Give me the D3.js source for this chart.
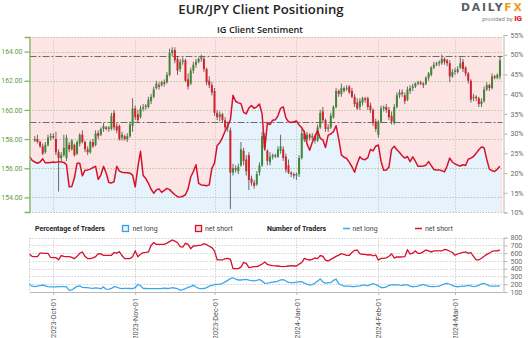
<!DOCTYPE html>
<html><head><meta charset="utf-8">
<script src="https://cdn.jsdelivr.net/npm/d3@7"></script>
<style>
html,body{margin:0;padding:0;background:#fff;}
svg{display:block;font-family:Roboto,"Noto Sans",sans-serif;}
</style></head><body>
<svg id="chart" width="528" height="338"></svg>
<script>
// EUR/JPY daily candles, one per day starting 2023-09-24
const candleStart = "2023-09-24";
const open = [157.9,158.0,157.8,157.5,157.1,157.6,158.1,158.2,158.0,157.1,156.7,156.9,156.7,157.6,157.3,157.6,157.0,157.7,158.3,157.8,157.3,157.1,157.8,157.6,158.4,158.3,158.7,158.8,158.7,158.7,159.8,158.9,158.9,158.1,158.2,158.0,158.2,158.9,160.1,159.7,159.5,160.1,160.2,160.2,160.6,160.9,161.5,161.7,161.7,161.9,161.9,162.4,163.9,164.1,163.5,162.8,163.3,163.4,162.1,161.8,162.7,163.1,163.3,163.5,163.5,162.8,162.0,161.7,161.3,159.8,159.5,159.7,159.3,158.8,158.6,155.7,156.0,155.8,156.2,157.2,156.6,156.9,155.3,155.0,154.9,155.7,156.2,158.2,157.2,156.4,156.8,156.8,156.8,157.2,157.3,156.8,156.2,155.7,155.6,155.5,155.6,156.7,158.4,158.0,158.3,158.1,158.2,157.9,158.8,159.9,159.3,158.7,158.8,159.5,160.2,161.3,161.1,161.3,161.5,161.6,161.3,160.9,160.5,160.2,160.5,160.8,160.8,160.3,160.0,159.2,158.3,159.2,160.1,160.2,160.0,159.6,159.1,160.2,161.0,161.2,161.0,160.7,161.3,161.5,161.6,161.8,161.9,161.8,161.8,162.2,162.4,162.9,163.1,163.2,163.2,163.5,163.4,163.2,162.3,162.6,162.6,162.9,163.3,162.9,162.5,162.0,160.8,160.9,160.8,160.4,160.6,161.4,161.7,161.5,162.3,162.2,162.3];
const high = [158.2,158.3,157.9,157.7,157.8,158.3,158.4,158.4,158.5,157.3,157.1,158.3,158.3,157.8,158.0,157.7,157.9,158.4,158.6,157.9,157.5,157.9,158.0,158.6,158.6,158.8,159.1,158.9,158.9,159.8,160.0,159.1,159.0,158.5,158.3,158.4,159.2,160.8,160.3,160.0,160.3,160.4,160.4,160.9,161.1,161.6,162.0,161.9,162.0,162.1,162.6,164.2,164.3,164.3,163.7,163.5,163.6,163.5,162.5,162.9,163.3,163.5,163.6,163.8,163.7,162.9,162.3,161.9,161.5,160.0,159.9,159.8,159.5,159.2,158.8,156.3,156.2,156.3,157.8,157.4,156.9,157.1,155.5,155.2,155.8,156.4,158.5,158.4,157.3,157.1,157.0,157.0,157.5,158.3,157.5,157.0,156.6,155.8,155.7,155.7,156.9,158.7,158.6,158.5,158.4,158.4,158.3,159.0,160.0,160.2,159.4,159.0,159.8,160.3,161.5,161.4,161.8,161.6,161.7,161.7,161.5,161.1,160.8,160.8,160.9,160.9,160.9,160.5,160.1,159.4,159.3,160.3,160.3,160.4,160.2,159.9,160.4,161.2,161.4,161.4,161.2,161.6,161.7,161.8,161.9,162.0,162.0,161.9,162.3,162.6,163.0,163.3,163.3,163.4,163.8,163.6,163.5,163.4,162.8,162.9,163.0,163.6,163.5,163.0,162.6,162.1,161.1,161.0,160.9,160.8,161.6,161.9,161.8,162.5,162.4,162.5,163.7];
const low = [157.8,157.7,157.4,156.9,157.0,157.5,157.9,158.0,156.9,154.4,156.5,156.8,156.5,157.1,157.2,156.8,156.9,157.5,157.7,157.1,156.9,157.0,157.4,157.5,158.0,158.2,158.5,158.6,158.5,158.6,158.6,158.4,157.9,157.9,157.9,157.8,158.1,158.5,159.3,159.1,159.4,159.9,160.0,160.1,160.4,160.8,161.4,161.4,161.6,161.6,161.8,162.3,163.7,163.2,162.4,162.6,163.1,161.9,161.4,161.7,162.5,162.9,163.2,163.3,162.6,161.7,161.5,161.0,159.6,159.3,159.2,159.1,158.6,158.5,153.2,155.5,155.7,155.6,156.1,156.2,155.5,154.5,154.8,154.6,154.8,155.5,156.1,157.2,156.2,156.2,156.6,156.7,156.7,157.0,156.5,155.7,155.6,155.4,155.3,155.2,155.4,156.6,157.8,157.8,157.9,157.9,157.7,157.8,158.7,159.1,158.5,158.5,158.7,159.4,160.1,160.9,160.9,161.2,161.3,161.1,160.8,160.2,160.0,160.0,160.3,160.5,160.0,159.8,158.9,158.5,158.1,159.1,159.9,159.8,159.3,159.0,159.0,160.1,160.8,160.9,160.4,160.6,161.1,161.3,161.5,161.7,161.7,161.5,161.7,162.0,162.3,162.8,163.0,163.0,163.1,163.1,163.0,161.9,162.2,162.4,162.5,162.8,162.6,162.3,161.8,160.5,160.6,160.6,160.2,160.2,160.5,161.3,161.3,161.4,162.1,162.1,162.1];
const close = [158.0,157.8,157.5,157.0,157.6,158.1,158.2,158.1,157.1,156.7,156.9,157.4,158.1,157.3,157.9,156.9,157.8,158.3,157.8,157.3,157.1,157.8,157.5,158.4,158.2,158.7,158.9,158.7,158.8,159.6,158.8,158.6,158.0,158.3,158.0,158.2,159.0,160.1,159.5,159.3,160.1,160.2,160.3,160.7,160.9,161.4,161.8,161.6,161.9,161.8,162.4,163.9,164.1,163.4,162.7,163.3,163.4,162.0,161.6,162.7,163.1,163.3,163.5,163.6,162.8,161.9,161.7,161.2,159.8,159.5,159.7,159.3,158.8,158.9,155.7,156.0,155.9,156.1,157.3,156.5,155.8,155.2,155.0,154.8,155.6,156.2,158.2,157.4,156.5,156.8,156.9,156.9,157.3,157.5,156.7,155.9,155.7,155.6,155.5,155.6,156.7,158.4,158.0,158.3,158.1,158.2,157.9,158.8,159.8,159.3,158.7,158.8,159.6,160.2,161.3,161.1,161.5,161.5,161.5,161.2,160.9,160.4,160.1,160.6,160.8,160.7,160.2,160.0,159.1,158.7,159.2,160.1,160.2,160.0,159.5,159.2,160.2,161.0,161.2,161.1,160.6,161.4,161.5,161.6,161.8,161.9,161.8,161.7,162.2,162.5,162.9,163.1,163.2,163.3,163.5,163.3,163.2,162.3,162.6,162.7,162.8,163.2,162.8,162.5,162.0,160.7,160.9,160.8,160.4,160.6,161.4,161.7,161.5,162.3,162.2,162.4,163.4];

// Client sentiment and trader counts, one value per day starting 2023-09-22
const sentimentStart = "2023-09-22";
const netLongPct = [24.2,23.2,22.8,22.5,22.8,23.6,22.6,22.6,22.7,22.8,22.7,22.9,22.8,22.7,22.1,16.5,16.6,18.8,22.5,22.5,19.3,20.7,20.8,21.0,21.4,21.7,18.4,19.5,21.7,20.0,17.6,17.5,17.8,21.7,20.5,20.2,20.1,20.1,20.0,19.5,16.5,21.5,25.5,19.4,18.6,17.4,15.9,14.9,15.7,16.0,15.1,15.6,16.1,15.8,15.1,14.5,14.0,13.9,14.1,14.5,16.0,19.0,20.4,22.1,17.4,17.0,16.9,16.8,17.0,21.2,22.5,27.0,27.7,29.0,30.6,31.9,33.5,39.7,38.2,37.8,37.6,35.4,35.0,36.5,37.1,36.4,36.8,37.5,35.0,26.0,32.6,32.3,33.4,33.5,34.5,36.4,36.8,34.0,33.0,32.8,33.0,33.2,32.2,31.5,30.3,27.4,25.8,27.8,29.3,30.8,28.8,28.4,26.5,29.6,29.9,30.5,32.0,28.6,24.6,24.0,23.7,22.7,21.6,20.2,22.4,24.1,23.5,23.4,23.9,26.0,25.6,26.8,27.1,23.0,20.7,20.8,21.5,26.0,26.8,25.9,25.2,24.4,23.8,24.2,22.9,24.1,23.0,21.7,21.7,21.8,22.0,22.9,21.9,20.9,20.8,20.8,20.6,20.3,21.8,23.8,22.8,22.3,22.0,21.8,22.1,21.9,23.5,23.8,24.2,25.0,25.9,26.6,26.4,23.5,21.0,20.6,20.4,21.0,21.7];
const netShortCount = [586,560,556,556,600,600,598,598,545,543,543,515,570,560,556,556,545,530,560,600,616,560,530,530,540,556,595,590,573,573,573,573,610,600,620,570,530,530,530,555,629,556,586,607,610,616,700,736,715,715,715,715,730,750,770,755,735,684,680,727,715,659,693,695,700,705,723,710,690,672,629,513,513,513,530,534,521,401,401,401,420,480,470,414,420,427,427,440,460,487,457,447,440,437,435,430,427,430,435,440,435,435,460,480,534,520,513,520,538,530,570,560,510,500,520,540,560,575,595,585,573,573,610,637,640,595,586,586,577,580,566,577,513,534,534,540,560,590,540,551,551,553,556,642,590,600,629,598,598,620,642,629,616,629,629,629,629,648,642,625,610,573,590,602,610,616,600,607,560,515,513,535,560,585,600,625,630,632,640];
const netLongCount = [199,175,170,177,183,190,180,170,167,165,167,169,169,169,165,122,126,150,172,177,160,156,156,150,147,152,150,140,165,134,138,145,169,162,150,143,147,147,145,143,156,200,180,147,145,143,143,143,143,143,145,150,145,147,155,150,145,122,130,143,160,169,186,165,147,143,145,156,175,186,195,199,199,210,230,250,272,285,265,255,255,260,262,253,248,243,250,262,240,212,215,220,226,232,240,255,258,242,225,220,222,228,230,232,215,200,188,195,215,240,270,230,212,220,220,250,265,205,190,177,177,175,169,169,175,180,188,188,180,195,207,195,180,158,156,165,185,192,196,193,188,186,196,190,175,168,172,177,188,199,185,175,169,170,172,175,190,205,210,200,186,172,168,172,177,177,186,180,170,175,186,205,212,195,180,177,177,177,180];

// Axis ticks and reference price levels
const priceTicks = [154, 156, 158, 160, 162, 164];
const pctTicks = [10, 15, 20, 25, 30, 35, 40, 45, 50, 55];
const countTicks = [100, 200, 300, 400, 500, 600, 700, 800];
const monthTicks = ["2023-10-01", "2023-11-01", "2023-12-01", "2024-01-01", "2024-02-01", "2024-03-01"];
const priceLevels = [163.72, 159.15];

const parse = d3.utcParse("%Y-%m-%d");
const c0 = parse(candleStart), s0 = parse(sentimentStart);
const candles = open.map((o, i) => ({date: d3.utcDay.offset(c0, i), o, h: high[i], l: low[i], c: close[i]}));
const sent = netLongPct.map((v, i) => ({date: d3.utcDay.offset(s0, i), pct: v, nl: netLongCount[i], ns: netShortCount[i]}));
const months = monthTicks.map(parse);

const svg = d3.select("#chart");
const L = 29.5, R = 502.6, T = 37, B = 212;
const BT = 237.7, BB = 292;

const x = d3.scaleUtc().domain([parse("2023-09-22"), parse("2024-03-19")]).range([L, R]);
const yP = d3.scaleLinear().domain([153, 165]).range([B, T]);
const yPct = d3.scaleLinear().domain([10, 55]).range([212.5, 35]);
const yN = d3.scaleLinear().domain([100, 800]).range([BB, BT]);

svg.append("clipPath").attr("id", "plotclip").append("rect")
  .attr("x", L).attr("y", T).attr("width", R - L).attr("height", B - T);

// sentiment background: short side above the line, long side below it
const bg = svg.append("g").attr("clip-path", "url(#plotclip)");
bg.append("rect").attr("x", L).attr("y", T).attr("width", R - L).attr("height", B - T).attr("fill", "#fde4e5");
bg.append("path").datum(sent)
  .attr("fill", "#e6f3fc")
  .attr("d", d3.area().x(d => x(d.date)).y0(B + 2).y1(d => yPct(d.pct)));

// grid
const grid = svg.append("g");
grid.selectAll(".hg").data([153, ...priceTicks, 165]).join("line")
  .attr("x1", L).attr("x2", R)
  .attr("y1", d => Math.round(yP(d)) + 0.5).attr("y2", d => Math.round(yP(d)) + 0.5)
  .attr("stroke", "#b5c99a").attr("stroke-dasharray", "1.5,1.5");
grid.selectAll(".vg").data(months).join("line")
  .attr("x1", d => Math.round(x(d)) + 0.5).attr("x2", d => Math.round(x(d)) + 0.5)
  .attr("y1", T).attr("y2", B)
  .attr("stroke", "#cfcfcf").attr("stroke-dasharray", "1.5,1.5");
grid.append("line").attr("x1", L).attr("x2", L).attr("y1", T).attr("y2", B)
  .attr("stroke", "#cfcfcf").attr("stroke-dasharray", "1.5,1.5");

// reference price levels
svg.append("g").selectAll("line").data(priceLevels).join("line")
  .attr("x1", L).attr("x2", R)
  .attr("y1", d => Math.round(yP(d)) + 0.5).attr("y2", d => Math.round(yP(d)) + 0.5)
  .attr("stroke", "#6b6b6b").attr("stroke-width", 1).attr("stroke-dasharray", "7,2,2,2");

// candlesticks
const cg = svg.append("g").attr("clip-path", "url(#plotclip)");
const cs = cg.selectAll("g").data(candles).join("g");
cs.append("line")
  .attr("x1", d => x(d.date)).attr("x2", d => x(d.date))
  .attr("y1", d => yP(d.h)).attr("y2", d => yP(d.l))
  .attr("stroke", "#5a5a5a").attr("stroke-width", 0.9);
cs.append("rect")
  .attr("x", d => x(d.date) - 1).attr("width", 2)
  .attr("y", d => yP(Math.max(d.o, d.c)))
  .attr("height", d => Math.max(0.8, Math.abs(yP(d.o) - yP(d.c))))
  .attr("fill", d => d.c >= d.o ? "#3c8a35" : "#d2232a");

// sentiment line
svg.append("path").datum(sent).attr("clip-path", "url(#plotclip)")
  .attr("fill", "none").attr("stroke", "#d8112b").attr("stroke-width", 1.5).attr("stroke-linejoin", "round")
  .attr("d", d3.line().x(d => x(d.date)).y(d => yPct(d.pct)));

// left price axis
const ax = svg.append("g").attr("transform", `translate(${L},0)`)
  .call(d3.axisLeft(yP).tickValues(priceTicks).tickFormat(d3.format(".2f")).tickSize(5).tickSizeOuter(5).tickPadding(2));
ax.selectAll("path,line").attr("stroke", "#86b55f").attr("stroke-width", 1.3);
ax.selectAll("text").attr("fill", "#5e9c3c").attr("font-size", 6.9).attr("font-family", "Roboto, sans-serif");

// right percentage axis
const ar = svg.append("g").attr("transform", "translate(503.5,0)")
  .call(d3.axisRight(yPct).tickValues(pctTicks).tickFormat(d => d + "%").tickSize(4).tickSizeOuter(4).tickPadding(3));
ar.selectAll("path,line").attr("stroke", "#b8b8b8");
ar.selectAll("text").attr("fill", "#6a6a6a").attr("font-size", 7).attr("font-family", "Roboto, sans-serif");

// legend
const lg = svg.append("g").attr("font-size", 7).attr("fill", "#333");
lg.append("text").attr("x", 35).attr("y", 230.5).attr("font-weight", 700).attr("fill", "#222").text("Percentage of Traders");
lg.append("rect").attr("x", 122.5).attr("y", 225.5).attr("width", 6).attr("height", 6).attr("fill", "#e6f3fc").attr("stroke", "#3a9fe3").attr("stroke-width", 1.3);
lg.append("text").attr("x", 132.5).attr("y", 230.5).attr("fill", "#444").text("net long");
lg.append("rect").attr("x", 195.5).attr("y", 225.5).attr("width", 6).attr("height", 6).attr("fill", "#fde4e5").attr("stroke", "#d8112b").attr("stroke-width", 1.3);
lg.append("text").attr("x", 205).attr("y", 230.5).attr("fill", "#444").text("net short");
lg.append("text").attr("x", 267).attr("y", 230.5).attr("font-weight", 700).attr("fill", "#222").text("Number of Traders");
lg.append("line").attr("x1", 343).attr("x2", 350).attr("y1", 228.5).attr("y2", 228.5).attr("stroke", "#3aa8ec").attr("stroke-width", 1.5);
lg.append("text").attr("x", 352.5).attr("y", 230.5).attr("fill", "#444").text("net long");
lg.append("line").attr("x1", 415).attr("x2", 422).attr("y1", 228.5).attr("y2", 228.5).attr("stroke", "#d8112b").attr("stroke-width", 1.5);
lg.append("text").attr("x", 425).attr("y", 230.5).attr("fill", "#444").text("net short");

// trader count panel
const bgrid = svg.append("g");
bgrid.selectAll(".h").data(countTicks).join("line")
  .attr("x1", L).attr("x2", R)
  .attr("y1", d => Math.round(yN(d)) + 0.5).attr("y2", d => Math.round(yN(d)) + 0.5)
  .attr("stroke", "#d2d2d2").attr("stroke-dasharray", "1.5,1.5");
bgrid.selectAll(".v").data(months).join("line")
  .attr("x1", d => Math.round(x(d)) + 0.5).attr("x2", d => Math.round(x(d)) + 0.5)
  .attr("y1", BT).attr("y2", BB)
  .attr("stroke", "#cfcfcf").attr("stroke-dasharray", "1.5,1.5");
bgrid.append("line").attr("x1", L).attr("x2", L).attr("y1", BT).attr("y2", BB)
  .attr("stroke", "#cfcfcf").attr("stroke-dasharray", "1.5,1.5");

svg.append("path").datum(sent)
  .attr("fill", "none").attr("stroke", "#d8112b").attr("stroke-width", 1.3)
  .attr("d", d3.line().x(d => x(d.date)).y(d => yN(d.ns)));
svg.append("path").datum(sent)
  .attr("fill", "none").attr("stroke", "#3aa8ec").attr("stroke-width", 1.3)
  .attr("d", d3.line().x(d => x(d.date)).y(d => yN(d.nl)));

const an = svg.append("g").attr("transform", "translate(503.5,0)")
  .call(d3.axisRight(yN).tickValues(countTicks).tickSize(4).tickSizeOuter(4).tickPadding(3));
an.selectAll("path,line").attr("stroke", "#b8b8b8");
an.selectAll("text").attr("fill", "#6a6a6a").attr("font-size", 7).attr("font-family", "Roboto, sans-serif");

// date axis
const axb = svg.append("g").attr("transform", `translate(0,${BB})`)
  .call(d3.axisBottom(x).tickValues(months).tickFormat(d3.utcFormat("%Y-%b-%d")).tickSize(3).tickSizeOuter(0));
axb.select(".domain").attr("stroke", "#b8b8b8");
axb.selectAll("line").attr("stroke", "#b8b8b8");
axb.selectAll("text")
  .attr("fill", "#555").attr("font-size", 7.3).attr("font-family", "Roboto, sans-serif")
  .attr("text-anchor", "end").attr("transform", "rotate(-90)")
  .attr("x", -6).attr("y", 0).attr("dy", "0.35em");

// titles
svg.append("text").attr("x", 261).attr("y", 14).attr("text-anchor", "middle")
  .attr("font-family", "'Open Sans', sans-serif").attr("font-weight", 600).attr("font-size", 13.2).attr("fill", "#222")
  .text("EUR/JPY Client Positioning");
svg.append("text").attr("x", 260).attr("y", 33).attr("text-anchor", "middle")
  .attr("font-family", "'Open Sans', sans-serif").attr("font-weight", 600).attr("font-size", 9.2).attr("fill", "#222")
  .text("IG Client Sentiment");

// brand mark
const brand = svg.append("text").attr("x", 461).attr("y", 11)
  .attr("font-family", "'DejaVu Sans', sans-serif").attr("font-weight", 700).attr("font-size", 10.8).attr("letter-spacing", 1.8);
brand.append("tspan").attr("fill", "#5a5f66").text("DAILY");
brand.append("tspan").attr("fill", "#f39a1e").text("FX");
const prov = svg.append("text").attr("x", 522).attr("y", 20.5).attr("text-anchor", "end")
  .attr("font-family", "Roboto, sans-serif").attr("font-size", 6).attr("fill", "#888");
prov.append("tspan").text("provided by ");
prov.append("tspan").attr("fill", "#e3222b").attr("font-weight", 900).attr("font-size", 8).text("IG");
</script></body></html>
